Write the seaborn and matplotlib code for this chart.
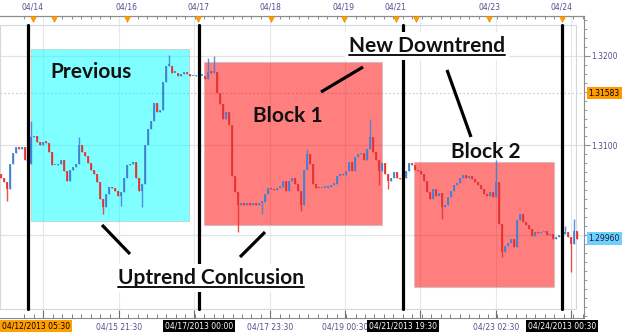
import numpy as np
import pandas as pd
import matplotlib
matplotlib.use("Agg")
import matplotlib.pyplot as plt
import seaborn as sns
import matplotlib.transforms as mtransforms
from matplotlib.patches import Rectangle
from matplotlib.lines import Line2D
from matplotlib.ticker import FixedLocator

# ---------------- data ----------------
closes = [
    1.3064, 1.3059, 1.3051, 1.3079, 1.3092, 1.3098, 1.3096, 1.3098, 1.3084, 1.3079,
    1.3109, 1.3110, 1.3104, 1.3100, 1.3104, 1.3103, 1.3093, 1.3078, 1.3078, 1.3079,
    1.3084, 1.3071, 1.3060, 1.3073, 1.3076, 1.3079, 1.3101, 1.3093, 1.3088, 1.3080,
    1.3073, 1.3068, 1.3059, 1.3040, 1.3031, 1.3046, 1.3054, 1.3052, 1.3049, 1.3043,
    1.3048, 1.3064, 1.3078, 1.3079, 1.3081, 1.3064, 1.3049, 1.3057, 1.3101, 1.3118,
    1.3127, 1.3147, 1.3137, 1.3140, 1.3171, 1.3189, 1.3189, 1.3181, 1.3181, 1.3178,
    1.3180, 1.3181, 1.3180, 1.3177, 1.3177, 1.3179, 1.3178, 1.3178, 1.3174, 1.3182,
    1.3181, 1.3182, 1.3159, 1.3146, 1.3129, 1.3137, 1.3123, 1.3066, 1.3048, 1.3034,
    1.3036, 1.3033, 1.3036, 1.3033, 1.3036, 1.3034, 1.3036, 1.3037, 1.3046, 1.3053,
    1.3051, 1.3050, 1.3053, 1.3054, 1.3060, 1.3049, 1.3060, 1.3064, 1.3057, 1.3049,
    1.3034, 1.3073, 1.3090, 1.3079, 1.3057, 1.3053, 1.3052, 1.3053, 1.3053, 1.3054,
    1.3056, 1.3057, 1.3066, 1.3068, 1.3067, 1.3071, 1.3082, 1.3071, 1.3087, 1.3090,
    1.3092, 1.3084, 1.3096, 1.3109, 1.3093, 1.3084, 1.3071, 1.3080, 1.3068, 1.3060,
    1.3064, 1.3070, 1.3064, 1.3062, 1.3064, 1.3071, 1.3080, 1.3078, 1.3073, 1.3071,
    1.3068, 1.3060, 1.3048, 1.3040, 1.3051, 1.3044, 1.3047, 1.3031, 1.3034, 1.3042,
    1.3049, 1.3056, 1.3058, 1.3064, 1.3067, 1.3064, 1.3066, 1.3063, 1.3059, 1.3056,
    1.3051, 1.3046, 1.3044, 1.3048, 1.3042, 1.3059, 1.3012, 1.2981, 1.2988, 1.2991,
    1.2996, 1.2987, 1.3017, 1.3023, 1.3014, 1.3011, 1.3007, 1.2999, 1.3003, 1.3002,
    1.3003, 1.3004, 1.3000, 1.3001, 1.2996, 1.2998, 1.3000, 1.3001, 1.3003, 1.2998,
    1.2990, 1.3004, 1.2996,
]
first_open = 1.3068
hi_idx = [10, 26, 56, 69, 71, 102, 123, 165, 188, 191]
hi_val = [1.3127, 1.3109, 1.3201, 1.3198, 1.3200, 1.3096, 1.3129, 1.3084, 1.3010, 1.3018]
lo_idx = [2, 34, 40, 47, 79, 87, 100, 126, 129, 147, 167, 190]
lo_val = [1.3038, 1.3023, 1.3032, 1.3031, 1.3003, 1.3023, 1.3027, 1.3056, 1.3051, 1.3018, 1.2976, 1.2959]

# price axis
price_ticks = [1.3000, 1.3100, 1.3200]
price_labels = ["", "1.3100", "1.3200"]
current_bid = 1.29960
marker_level = 1.31583

# top (date) ruler, positions in candle units
top_dates = ["04/14", "04/16", "04/17", "04/18", "04/19", "04/21", "04/23", "04/24"]
top_date_pos = [10.57, 41.9, 65.8, 89.97, 114.27, 131.53, 162.73, 186.93]
tri_pos = [10.57, 17.6, 41.9, 65.8, 89.97, 114.27, 131.53, 138.43, 162.73, 186.93]

# bottom (time) ruler
bottom_pos = [14.1, 39.33, 64.43, 89.67, 114.67, 139.77, 164.9, 190.1]
bottom_labels = ["", "04/15 21:30", "", "04/17 23:30", "04/19 00:30", "", "04/23 02:30", ""]

# vertical black marker lines and their highlighted time labels
vline_pos = [9, 66, 134, 187]
vline_labels = ["", "04/17/2013 00:00", "04/21/2013 19:30", "04/24/2013 00:30"]
start_label = "04/12/2013 05:30"

# shaded blocks
box_x0 = [10.0, 67.67, 137.67]
box_x1 = [62.67, 127.0, 184.33]
box_lo = [1.30156, 1.30112, 1.29420]
box_hi = [1.32076, 1.31931, 1.30815]
box_col = ["#00ffff", "#ff0000", "#ff0000"]

# annotation texts (x centre, baseline price)
ann_text = ["Previous", "Block 1", "New Downtrend", "Block 2", "Uptrend Conlcusion"]
ann_x = [30.0, 95.67, 142.0, 161.67, 70.0]
ann_y = [1.31752, 1.31261, 1.32042, 1.30859, 1.29453]
ann_white = [False, False, True, False, True]
ann_under = [False, False, True, False, True]

# connector strokes
conn = [
    ((33.67, 1.30112), (43.0, 1.29788)),
    ((88.0, 1.30033), (79.67, 1.29754)),
    ((106.67, 1.31596), (120.67, 1.31875)),
    ((148.67, 1.31842), (156.67, 1.31094)),
]

# ---------------- style ----------------
sns.set_theme(style="white")
plt.rcParams["font.family"] = ["DejaVu Sans"]

df = pd.DataFrame({"close": closes})
df["idx"] = np.arange(len(df))
df["open"] = [first_open] + closes[:-1]
df["high"] = df[["open", "close"]].max(axis=1)
df["low"] = df[["open", "close"]].min(axis=1)
df.loc[hi_idx, "high"] = hi_val
df.loc[lo_idx, "low"] = lo_val
df["up"] = df["close"] >= df["open"]

UP = "#3f7fd4"
DN = "#e5302e"

fig = plt.figure(figsize=(6.24, 3.33), dpi=100)
fig.patch.set_facecolor("white")
ax = fig.add_axes([0, 15 / 333, 584 / 624, 302 / 333])
ax.set_facecolor("white")
ax.set_xlim(-1 / 3, 583 / 3)
ax.set_ylim(1.290737, 1.324442)

# grid
for p in bottom_pos:
    ax.axvline(p, color="#e6e8ee", lw=0.8, zorder=0.5)
for p in price_ticks:
    ax.axhline(p, color="#e3e3e3", lw=0.9, zorder=0.5)
ax.axhline(marker_level, color="#c8c8c8", lw=0.8, ls=(0, (1.5, 2)), zorder=0.6)

# inner frame
ax.add_patch(Rectangle((0, 9 / 302), 576 / 584, 284 / 302, transform=ax.transAxes,
                       fill=False, edgecolor="#d3d7df", lw=0.8, zorder=0.7))

# blocks
for x0, x1, lo, hi, c in zip(box_x0, box_x1, box_lo, box_hi, box_col):
    ax.add_patch(Rectangle((x0, lo), x1 - x0, hi - lo, facecolor=c, alpha=0.5,
                           edgecolor="#b8b8b8", lw=0.8, zorder=2))

# candles
cols = np.where(df["up"], UP, DN)
ax.vlines(df["idx"], df["low"], df["high"], colors=cols, lw=1.0, zorder=3, alpha=0.85)
body = (df["close"] - df["open"]).abs().clip(lower=0.00016)
ax.bar(df["idx"], body, bottom=df[["open", "close"]].min(axis=1), width=0.8,
       color=cols, linewidth=0, zorder=3, alpha=0.85)

# thick vertical marker lines
for p in vline_pos:
    ax.axvline(p, ymin=9 / 302, ymax=293 / 302, color="black", lw=2.3, zorder=6)

# connectors
for (a, b) in conn:
    ax.plot([a[0], b[0]], [a[1], b[1]], color="black", lw=2.3, zorder=7,
            solid_capstyle="butt")

# annotation texts
texts = []
for s, x, y, w in zip(ann_text, ann_x, ann_y, ann_white):
    kw = {}
    if w:
        kw["bbox"] = dict(facecolor="white", edgecolor="none", pad=2.5)
    t = ax.text(x, y, s, ha="center", va="baseline", fontsize=15, fontweight="bold",
                family=["Lato", "DejaVu Sans"], color="#111111", zorder=8, **kw)
    texts.append(t)

# axes / ticks
ax.spines["left"].set_visible(False)
for sp in ["top", "bottom", "right"]:
    ax.spines[sp].set_color("#8c8c8c")
    ax.spines[sp].set_linewidth(0.8)

ax.set_xticks(bottom_pos, bottom_labels)
minor = [bottom_pos[0] + k * (bottom_pos[1] - bottom_pos[0]) / 8 for k in range(-2, 8 * 8)]
minor = [m for m in minor if -0.3 < m < 194.3]
ax.xaxis.set_minor_locator(FixedLocator(minor))
ax.tick_params(axis="x", which="major", bottom=True, top=False, direction="in",
               length=6, width=0.8, color="#707070", labelsize=5.5,
               labelcolor="#50508c", pad=3)
ax.tick_params(axis="x", which="minor", bottom=True, top=False, direction="in",
               length=3.2, width=0.7, color="#7a7a7a")

ax.yaxis.tick_right()
ax.set_yticks(price_ticks, price_labels)
ax.yaxis.set_minor_locator(FixedLocator([1.291 + 0.001 * k for k in range(34)]))
ax.tick_params(axis="y", which="major", right=True, left=False, direction="out",
               length=4, width=0.8, color="#8c8c8c", labelsize=5.5,
               labelcolor="#50508c", pad=1.5)
ax.tick_params(axis="y", which="minor", right=True, left=False, direction="out",
               length=2.2, width=0.6, color="#8c8c8c")

sec = ax.secondary_xaxis("top")
sec.set_xticks(top_date_pos, top_dates)
sec.xaxis.set_minor_locator(FixedLocator(minor))
sec.tick_params(axis="x", which="major", direction="in", length=3, width=0.7,
                color="#707070", labelsize=5.5, labelcolor="#50508c", pad=3)
sec.tick_params(axis="x", which="minor", direction="in", length=2.5, width=0.6,
                color="#7a7a7a")
sec.spines["top"].set_color("#8c8c8c")
sec.spines["top"].set_linewidth(0.8)

blend = mtransforms.blended_transform_factory(ax.transData, ax.transAxes)
ax.plot(tri_pos, [0.991] * len(tri_pos), ls="none", marker="v", ms=4.5,
        color="#ffa000", mec="#e08a00", mew=0.4, transform=blend, clip_on=False, zorder=9)

# highlighted bottom time labels
for p, s in zip(vline_pos, vline_labels):
    if s:
        ax.text(p, -0.0265, s, transform=blend, ha="center", va="center",
                fontsize=5.5, color="white", clip_on=False, zorder=10,
                bbox=dict(facecolor="black", edgecolor="none", pad=1.3))
ax.text(0.003, -0.0265, start_label, transform=ax.transAxes, ha="left", va="center",
        fontsize=5.5, color="black", clip_on=False, zorder=10,
        bbox=dict(facecolor="#ffa000", edgecolor="none", pad=1.3))

# price flags on right axis
rblend = mtransforms.blended_transform_factory(ax.transAxes, ax.transData)
ax.text(1.008, marker_level, f"{marker_level:.5f}", transform=rblend, ha="left",
        va="center", fontsize=5.5, color="black", clip_on=False, zorder=10,
        bbox=dict(facecolor="#ff9a00", edgecolor="none", pad=1.2))
ax.text(1.008, current_bid, f"{current_bid:.5f}", transform=rblend, ha="left",
        va="center", fontsize=5.5, color="#1a1a3a", clip_on=False, zorder=10,
        bbox=dict(facecolor="#6fd0ff", edgecolor="none", pad=1.2))

# underlines
fig.canvas.draw()
r = fig.canvas.get_renderer()
inv = fig.transFigure.inverted()
for t, u, x, y in zip(texts, ann_under, ann_x, ann_y):
    if not u:
        continue
    bb = t.get_window_extent(r)
    base = ax.transData.transform((x, y))[1]
    p0 = inv.transform((bb.x0, base - 3))
    p1 = inv.transform((bb.x1, base - 3))
    fig.add_artist(Line2D([p0[0], p1[0]], [p0[1], p1[1]], transform=fig.transFigure,
                          color="#111111", lw=1.4, zorder=20))

fig.savefig("out.png", dpi=100, facecolor="white")
